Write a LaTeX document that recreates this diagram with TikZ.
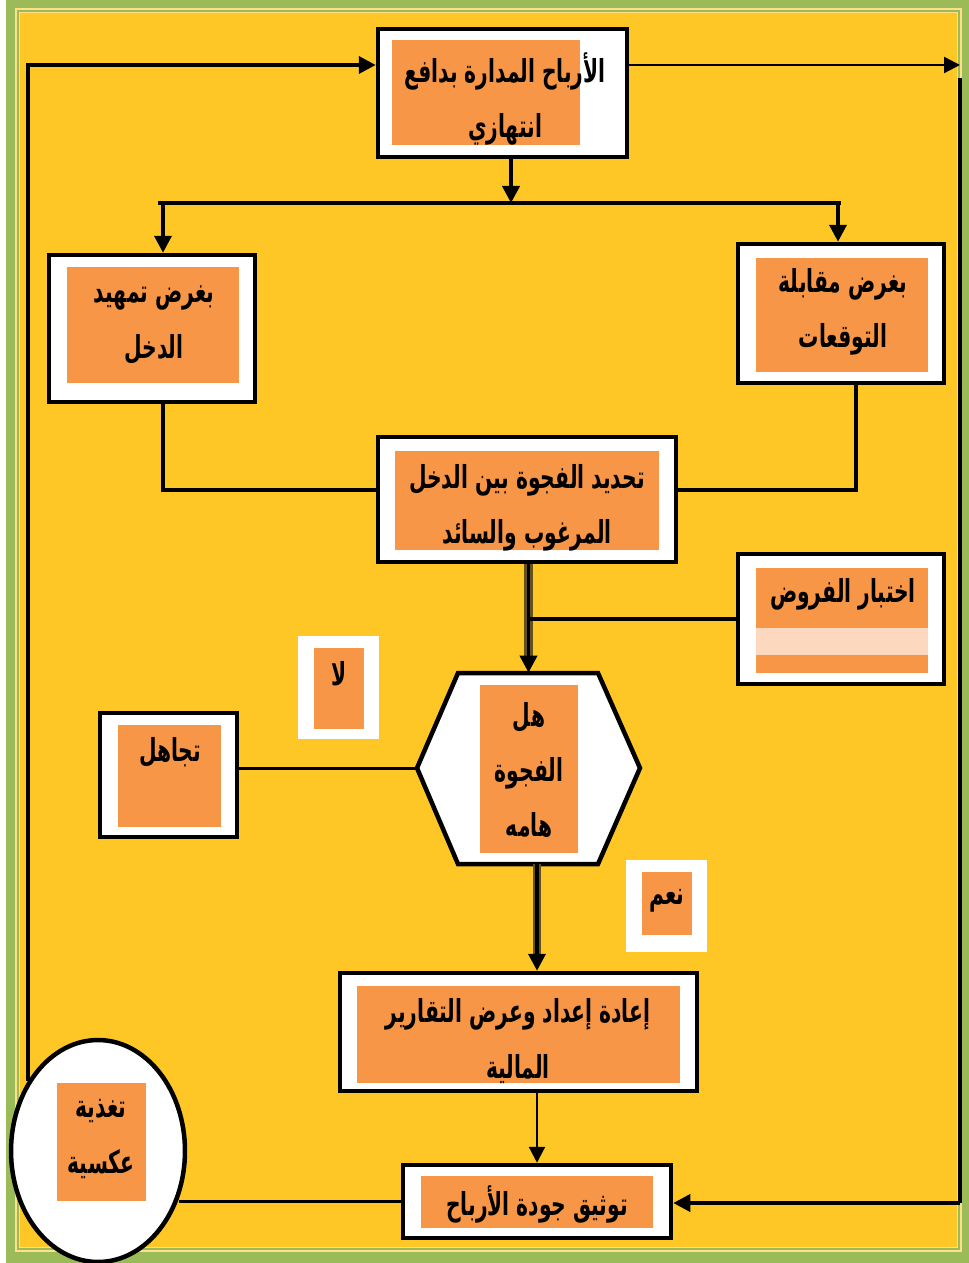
\documentclass[tikz,border=0pt]{standalone}
\usepackage{fontspec}
\usetikzlibrary{arrows.meta,fit,shapes.geometric}
\newfontfamily\arabicfont[Script=Arabic, FakeStretch=0.64]{DejaVu Sans}
\TeXXeTstate=1
\newcommand{\rtl}[1]{\beginR#1\endR}
\definecolor{pagegreen}{RGB}{155,187,89}
\definecolor{pageyellow}{RGB}{255,199,38}
\definecolor{panelorange}{RGB}{247,150,70}
\definecolor{panellight}{RGB}{251,216,190}
\definecolor{shaftolive}{RGB}{100,82,24}
\tikzset{
  frame/.style={draw=black, fill=white, line width=0.09cm, inner sep=0pt},
  tagframe/.style={fill=white, inner sep=0pt},
  panel/.style={fill=panelorange, inner sep=0pt},
  boxtext/.style={font=\arabicfont\bfseries\fontsize{18}{31.5}\selectfont, align=center, inner sep=0pt},
  link/.style={line width=0.075cm},
  thinlink/.style={line width=0.045cm},
  arrowlink/.style={link, -{Triangle[length=0.34cm,width=0.34cm]}},
  thinarrow/.style={thinlink, -{Triangle[length=0.32cm,width=0.32cm]}},
  shaft/.style={line width=0.17cm, draw=shaftolive},
}
\begin{document}
\begin{tikzpicture}[x=0.02cm, y=-0.02cm]
\useasboundingbox (0,0) rectangle (969,1263);
% page background
\fill[white] (0,0) rectangle (969,1263);%
\fill[pagegreen] (6,0) rectangle (969,1263);%
\fill[pageyellow!55!white] (15,8) rectangle (962,1252);%
\draw[pagegreen, line width=0.03cm] (18,11) rectangle (959,1249);%
\fill[pageyellow] (20,13) rectangle (957,1247);%

% Box: managed earnings
\node[frame, fit={(378,29) (627,157)}] (profit) {};%
\node[panel, fit={(392,40) (580,145)}] (profit-in) {};%
\node[boxtext] (profit-txt) at (505,99) {\rtl{الأرباح المدارة بدافع}\\\rtl{انتهازي}};%

% Box: income smoothing
\node[frame, fit={(49,255) (255,402)}] (smooth) {};%
\node[panel, fit={(67,267) (239,383)}] (smooth-in) {};%
\node[boxtext] (smooth-txt) at (154,325) {\rtl{بغرض تمهيد}\\\rtl{الدخل}};%

% Box: meeting expectations
\node[frame, fit={(738,244) (944,383)}] (expect) {};%
\node[panel, fit={(756,258) (928,372)}] (expect-in) {};%
\node[boxtext] (expect-txt) at (843,312) {\rtl{بغرض مقابلة}\\\rtl{التوقعات}};%

% Box: gap between desired and actual income
\node[frame, fit={(378,437) (676,562)}] (find) {};%
\node[panel, fit={(395,451) (659,550)}] (find-in) {};%
\node[boxtext] (find-txt) at (527,508) {\rtl{تحديد الفجوة بين الدخل}\\\rtl{المرغوب والسائد}};%

% Box: hypothesis testing
\node[frame, fit={(738,554) (944,684)}] (test) {};%
\node[panel, fit={(756,568) (928,673)}] (test-in) {};%
\fill[panellight] (756,628) rectangle (928,655);%
\node[boxtext] (test-txt) at (843,594) {\rtl{اختبار الفروض}};%

% Decision: is the gap important
\node[fit={(417,673) (640,864)}, inner sep=0pt] (gap) {};%
\filldraw[fill=white, line width=0.09cm, line join=miter] (458,673) -- (598,673) -- (640,768) -- (598,864) -- (458,864) -- (417,768) -- cycle;%
\node[panel, fit={(480,685) (578,853)}] (gap-in) {};%
\node[boxtext] (gap-txt) at (529,770) {\rtl{هل}\\\rtl{الفجوة}\\\rtl{هامه}};%

% Box: ignore
\node[frame, fit={(100,713) (237,837)}] (ignore) {};%
\node[panel, fit={(118,725) (221,827)}] (ignore-in) {};%
\node[boxtext] (ignore-txt) at (170,752) {\rtl{تجاهل}};%

% Tags: no / yes
\node[tagframe, fit={(298,636) (379,739)}] (no) {};%
\node[panel, fit={(314,648) (364,729)}] (no-in) {};%
\node[boxtext] (no-txt) at (339,674) {\rtl{لا}};%
\node[tagframe, fit={(626,860) (707,952)}] (yes) {};%
\node[panel, fit={(642,872) (692,935)}] (yes-in) {};%
\node[boxtext] (yes-txt) at (667,901) {\rtl{نعم}};%

% Box: restating financial reports
\node[frame, fit={(340,973) (697,1091)}] (redo) {};%
\node[panel, fit={(357,986) (680,1083)}] (redo-in) {};%
\node[boxtext] (redo-txt) at (518,1041) {\rtl{إعادة إعداد وعرض التقارير}\\\rtl{المالية}};%

% Box: documenting earnings quality
\node[frame, fit={(403,1165) (671,1238)}] (quality) {};%
\node[panel, fit={(421,1176) (653,1228)}] (quality-in) {};%
\node[boxtext] (quality-txt) at (537,1204) {\rtl{توثيق جودة الأرباح}};%

% Ellipse: feedback
\node[ellipse, draw=black, fill=white, line width=0.09cm, minimum width=3.48cm, minimum height=4.44cm, inner sep=0pt] (fb) at (98,1151) {};%
\node[panel, fit={(57,1083) (146,1201)}] (fb-in) {};%
\node[boxtext] (fb-txt) at (101,1139) {\rtl{تغذية}\\\rtl{عكسية}};%

% Connectors
\coordinate (fbtop) at (30,65);%
\coordinate (rtop) at (960,65);%
\coordinate (rfoot) at (960,78);%
\coordinate (rbot) at (960,1203);%
\coordinate (split) at (511,203);%
\coordinate (splitL) at (163,203);%
\coordinate (splitR) at (838,203);%
\coordinate (joinL) at (163,490);%
\coordinate (joinR) at (856,490);%
\coordinate (yesx) at (537,0);%

\draw[arrowlink] (fb.135) |- (profit.west |- fbtop);%
\draw[thinarrow] (profit.east |- rtop) -- (rtop);%
\draw[link] (rfoot) -- (rbot);%
\draw[arrowlink] (rbot) -- (quality.east |- rbot);%

\draw[arrowlink] (split |- profit.south) -- (split);%
\draw[link] ([xshift=-0.1cm]splitL) -- ([xshift=0.05cm]splitR);%
\draw[arrowlink] (splitL) -- (splitL |- smooth.north);%
\draw[arrowlink] (splitR) -- (splitR |- expect.north);%

\draw[link] (joinL |- smooth.south) |- (find.west |- joinL);%
\draw[link] (joinR |- expect.south) |- (find.east |- joinR);%

\draw[shaft] (find.south -| gap.north) -- ([yshift=0.3cm]gap.north);%
\draw[arrowlink] (find.south -| gap.north) -- (gap.north);%
\draw[link] (test.west) -- (test.west -| gap.north);%

\draw[link] (gap.west) -- (gap.west -| ignore.east);%

\draw[shaft] (yesx |- gap.south) -- ([yshift=0.3cm]yesx |- redo.north);%
\draw[arrowlink] (yesx |- gap.south) -- (yesx |- redo.north);%

\draw[thinarrow] (redo.south -| quality.north) -- (quality.north);%
\draw[link] (quality.west) -- (quality.west -| fb.-30);%
\end{tikzpicture}
\end{document}
